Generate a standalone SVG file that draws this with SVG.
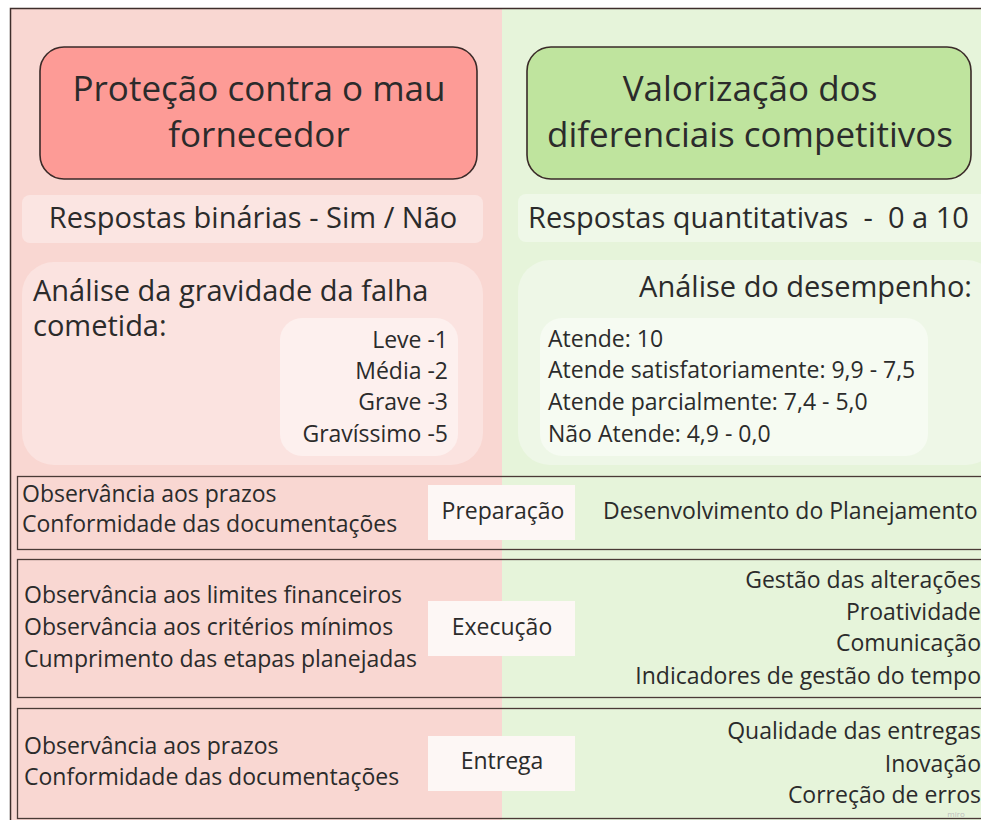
<svg xmlns="http://www.w3.org/2000/svg" width="981" height="820" viewBox="0 0 981 820">
<style>
text{font-family:"Open Sans","Noto Sans","DejaVu Sans",sans-serif;fill:#2b2b2b}
.title{font-size:35px;text-anchor:middle}
.sub{font-size:29px}
.ana{font-size:29px}
.item{font-size:23px}
.row{font-size:23px}
.end{text-anchor:end}
.mid{text-anchor:middle}
.frame{fill:none;stroke:#4a3a36;stroke-width:1.3}
.lbl{fill:#fdf7f5}
</style>
<rect x="0" y="0" width="981" height="820" fill="#ffffff"/>
<rect id="bg-left" x="10" y="8" width="492" height="812" fill="#f9d7d2"/>
<rect id="bg-right" x="502" y="8" width="479" height="812" fill="#e6f4da"/>
<path d="M10.5 820 V8.5 H981" fill="none" stroke="#3e2e2b" stroke-width="1.5"/>

<g id="title-left">
<rect x="40" y="47" width="437" height="132" rx="24" fill="#fd9b96" stroke="#3a2a28" stroke-width="1.6"/>
<text class="title"><tspan x="259" y="101">Proteção contra o mau</tspan><tspan x="259" y="147">fornecedor</tspan></text>
</g>
<g id="title-right">
<rect x="527" y="47" width="444" height="132" rx="24" fill="#bfe49e" stroke="#3a2a28" stroke-width="1.6"/>
<text class="title"><tspan x="750" y="101">Valorização dos</tspan><tspan x="750" y="147">diferenciais competitivos</tspan></text>
</g>

<g id="resp-left">
<rect x="22" y="195" width="461" height="48" rx="8" fill="#fbe5e2"/>
<text class="sub mid" x="253" y="228">Respostas binárias - Sim / Não</text>
</g>
<g id="resp-right">
<rect x="518" y="194" width="470" height="48" rx="8" fill="#eff8e8"/>
<text class="sub" x="528" y="228" xml:space="preserve">Respostas quantitativas  -  0 a 10</text>
</g>

<g id="analise-left">
<rect x="22" y="262" width="461" height="203" rx="32" fill="#fbe3e0"/>
<text class="ana"><tspan x="33" y="301">Análise da gravidade da falha</tspan><tspan x="33" y="336">cometida:</tspan></text>
<rect x="280" y="318" width="178" height="138" rx="22" fill="#fdf0ee"/>
<text class="item end"><tspan x="448" y="348">Leve -1</tspan><tspan x="448" y="379">Média -2</tspan><tspan x="448" y="410">Grave -3</tspan><tspan x="448" y="442">Gravíssimo -5</tspan></text>
</g>
<g id="analise-right">
<rect x="518" y="260" width="480" height="205" rx="32" fill="#eef7e7"/>
<text class="ana end" x="972" y="297">Análise do desempenho:</text>
<rect x="540" y="318" width="388" height="138" rx="22" fill="#f6fbf2"/>
<text class="item"><tspan x="548" y="347">Atende: 10</tspan><tspan x="548" y="378">Atende satisfatoriamente: 9,9 - 7,5</tspan><tspan x="548" y="410">Atende parcialmente: 7,4 - 5,0</tspan><tspan x="548" y="442">Não Atende: 4,9 - 0,0</tspan></text>
</g>

<g id="row-preparacao">
<rect class="frame" x="17.5" y="476.5" width="975" height="73"/>
<text class="row"><tspan x="22" y="502">Observância aos prazos</tspan><tspan x="22" y="532">Conformidade das documentações</tspan></text>
<rect class="lbl" x="428" y="485" width="147" height="55"/>
<text class="row mid" x="503" y="519">Preparação</text>
<text class="row" x="603" y="519">Desenvolvimento do Planejamento</text>
</g>

<g id="row-execucao">
<rect class="frame" x="17.5" y="559.5" width="975" height="138"/>
<text class="row"><tspan x="24" y="603">Observância aos limites financeiros</tspan><tspan x="24" y="635">Observância aos critérios mínimos</tspan><tspan x="24" y="667">Cumprimento das etapas planejadas</tspan></text>
<rect class="lbl" x="428" y="601" width="147" height="55"/>
<text class="row mid" x="502" y="635">Execução</text>
<text class="row end"><tspan x="981" y="588">Gestão das alterações</tspan><tspan x="981" y="620">Proatividade</tspan><tspan x="981" y="651">Comunicação</tspan><tspan x="981" y="684">Indicadores de gestão do tempo</tspan></text>
</g>

<g id="row-entrega">
<rect class="frame" x="17.5" y="708.5" width="975" height="110"/>
<text class="row"><tspan x="24" y="754">Observância aos prazos</tspan><tspan x="24" y="785">Conformidade das documentações</tspan></text>
<rect class="lbl" x="428" y="736" width="147" height="55"/>
<text class="row mid" x="502" y="769">Entrega</text>
<text class="row end"><tspan x="981" y="739">Qualidade das entregas</tspan><tspan x="981" y="772">Inovação</tspan><tspan x="981" y="803">Correção de erros</tspan></text>
</g>

<g id="connectors"></g>
<text x="956" y="817" style="font-size:8px;fill:#bdbdbd;text-anchor:middle">miro</text>
</svg>
